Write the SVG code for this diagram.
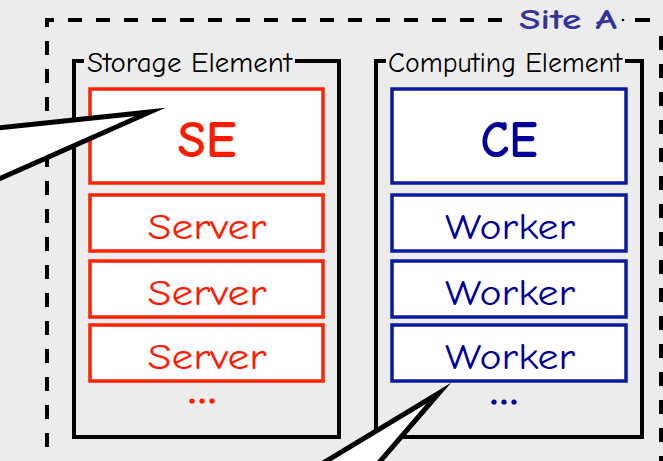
<svg xmlns="http://www.w3.org/2000/svg" width="663" height="461" viewBox="0 0 663 461">
  <style>
    .site { fill: none; stroke: #000; stroke-width: 4; stroke-dasharray: 14 14; }
    .frame { fill: none; stroke: #000; stroke-width: 4; }
    .lbl { font-family: "Comic Sans MS", "Comic Neue", "DejaVu Sans", sans-serif; font-size: 28px; fill: #000; }
    .se-box { fill: #fff; stroke: #ff2200; stroke-width: 3.5; }
    .ce-box { fill: #fff; stroke: #0a1aa0; stroke-width: 3.5; }
    .big { font-family: "Comic Sans MS", "Comic Neue", "DejaVu Sans", sans-serif; font-weight: bold; font-size: 52px; text-anchor: middle; }
    .item { font-family: "Comic Sans MS", "Comic Neue", "DejaVu Sans", sans-serif; font-size: 37px; text-anchor: middle; }
    .red { fill: #ff1a00; }
    .blue { fill: #000099; }
    .callout { fill: #fff; stroke: #000; stroke-width: 5; stroke-linejoin: miter; stroke-miterlimit: 10; }
  </style>

  <rect x="0" y="0" width="663" height="461" fill="#ececec"/>

  <!-- Site A boundary -->
  <g id="site-a">
    <path class="site" d="M47,27 V20 H516"/>
    <path class="site" d="M47,41 V470"/>
    <path class="site" d="M661,36 V470"/>
    <path d="M635,20 H650" stroke="#000" stroke-width="4"/>
    <circle cx="623" cy="20" r="1.3" fill="#000"/>
    <path d="M47,462.5 H661" stroke="#c8c8c8" stroke-width="3" stroke-dasharray="14 14" fill="none"/>
    <text x="519" y="29" font-family="'Comic Sans MS', 'Comic Neue', 'DejaVu Sans', sans-serif" font-weight="bold" font-size="29" fill="#333399" textLength="98" lengthAdjust="spacingAndGlyphs">Site A</text>
  </g>

  <!-- Storage Element column -->
  <g id="storage-element">
    <path class="frame" d="M84,61 H74 V437 H339 V61 H295"/>
    <text class="lbl" x="87" y="72" textLength="205" lengthAdjust="spacingAndGlyphs">Storage Element</text>
  </g>
  <g id="se">
    <rect class="se-box" x="90" y="89" width="233" height="94"/>
    <text class="big red" x="207" y="157" textLength="59" lengthAdjust="spacingAndGlyphs">SE</text>
  </g>
  <g id="server-1">
    <rect class="se-box" x="90" y="195" width="233" height="56"/>
    <text class="item red" x="207" y="239" textLength="119" lengthAdjust="spacingAndGlyphs">Server</text>
  </g>
  <g id="server-2">
    <rect class="se-box" x="90" y="261" width="233" height="56"/>
    <text class="item red" x="207" y="305" textLength="119" lengthAdjust="spacingAndGlyphs">Server</text>
  </g>
  <g id="server-3">
    <rect class="se-box" x="90" y="325" width="233" height="56"/>
    <text class="item red" x="207" y="369" textLength="119" lengthAdjust="spacingAndGlyphs">Server</text>
  </g>
  <g id="se-more" class="red">
    <circle cx="192" cy="401" r="2.6"/>
    <circle cx="202" cy="401" r="2.6"/>
    <circle cx="212" cy="401" r="2.6"/>
  </g>

  <!-- Computing Element column -->
  <g id="computing-element">
    <path class="frame" d="M386,61 H376 V437 H642 V61 H625"/>
    <text class="lbl" x="388" y="72" textLength="234" lengthAdjust="spacingAndGlyphs">Computing Element</text>
  </g>
  <g id="ce">
    <rect class="ce-box" x="392" y="89" width="234" height="94"/>
    <text class="big blue" x="509" y="157" textLength="57" lengthAdjust="spacingAndGlyphs">CE</text>
  </g>
  <g id="worker-1">
    <rect class="ce-box" x="392" y="195" width="234" height="56"/>
    <text class="item blue" x="510" y="239" textLength="130" lengthAdjust="spacingAndGlyphs">Worker</text>
  </g>
  <g id="worker-2">
    <rect class="ce-box" x="392" y="261" width="234" height="56"/>
    <text class="item blue" x="510" y="305" textLength="130" lengthAdjust="spacingAndGlyphs">Worker</text>
  </g>
  <g id="worker-3">
    <rect class="ce-box" x="392" y="325" width="234" height="56"/>
    <text class="item blue" x="510" y="369" textLength="130" lengthAdjust="spacingAndGlyphs">Worker</text>
  </g>
  <g id="ce-more" class="blue">
    <circle cx="494" cy="402" r="2.6"/>
    <circle cx="504" cy="402" r="2.6"/>
    <circle cx="514" cy="402" r="2.6"/>
  </g>

  <!-- speech-bubble pointers coming in from outside the site -->
  <g id="connectors">
    <polygon class="callout" points="-60,134 150,112 -60,205"/>
    <polygon class="callout" points="295,480 439,393 364,480"/>
  </g>
</svg>
